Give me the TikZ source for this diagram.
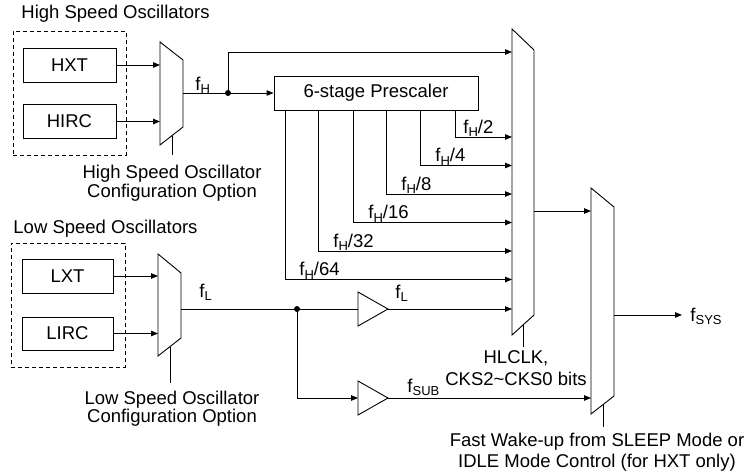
\documentclass[tikz,border=0pt]{standalone}
\usepackage{fontspec}
\setmainfont{Liberation Sans}
\usetikzlibrary{arrows.meta}
\newcommand\fsub[1]{f\raisebox{-3.5pt}{\fontsize{13}{13}\selectfont #1}}
\begin{document}
\begin{tikzpicture}[x=1pt,y=-1pt,line width=0.9pt,
  every node/.style={font=\fontsize{18.5}{18}\selectfont,inner sep=0pt},
  box/.style={draw,minimum width=93pt,minimum height=34pt},
  dashbox/.style={draw,dash pattern=on 4pt off 3pt},
  arr/.style={-{Triangle[length=7pt,width=5.5pt]}},
  lbl/.style={anchor=base west},
  mux/.style={draw,fill=white},
  jdot/.style={circle,fill,minimum size=6pt},
  note/.style={align=center,anchor=north}
]
\useasboundingbox (0,0) rectangle (749,471);

% ---------- high speed oscillators ----------
\node[lbl] (hstitle) at (21,18) {High Speed Oscillators};
\node[dashbox,minimum width=113pt,minimum height=124pt] (hsgrp) at (69.5,93) {};
\node[box] (hxt) at (69.5,65) {HXT};
\node[box] (hirc) at (69.5,121.5) {HIRC};

\draw[mux] (160,42) -- (183,60) -- (183,127) -- (160,145) -- cycle;
\coordinate (hmA) at (160,65);
\coordinate (hmB) at (160,121.5);
\coordinate (hmO) at (183,93);
\coordinate (hmC) at (172,135.6);
\coordinate (hmCe) at (172,155);
\draw[arr] (hxt.east) -- (hmA);
\draw[arr] (hirc.east) -- (hmB);
\draw (hmC) -- (hmCe);
\node[note,font=\fontsize{18.5}{17}\selectfont] (hsconf) at (172,165) {High Speed Oscillator\\Configuration Option};

\node[jdot] (dotH) at (228,93) {};
\node[lbl] (fHlbl) at (195,90) {\fsub{H}};
\node[draw,minimum width=204pt,minimum height=34pt] (pre) at (376,93) {6-stage Prescaler};
\draw (hmO) -- (dotH.center);
\draw[arr] (dotH.center) -- (pre.west);

% ---------- main mux ----------
\draw[mux] (512,29) -- (534,50) -- (534,315) -- (512,335) -- cycle;
\coordinate (mTop) at (512,52);
\coordinate (m2) at (512,137);
\coordinate (m4) at (512,165.5);
\coordinate (m8) at (512,194);
\coordinate (m16) at (512,222.5);
\coordinate (m32) at (512,251);
\coordinate (m64) at (512,279.5);
\coordinate (mL) at (512,309);
\coordinate (mO) at (534,211);
\coordinate (mC) at (523,325);
\coordinate (mCe) at (523,347);
\draw[arr] (dotH.center) |- (mTop);
\draw[arr] ([xshift=182pt]pre.south west) |- (m2);
\draw[arr] ([xshift=147pt]pre.south west) |- (m4);
\draw[arr] ([xshift=113pt]pre.south west) |- (m8);
\draw[arr] ([xshift=80pt]pre.south west) |- (m16);
\draw[arr] ([xshift=45pt]pre.south west) |- (m32);
\draw[arr] ([xshift=12pt]pre.south west) |- (m64);
\node[lbl] (l2) at (463,133) {\fsub{H}/2};
\node[lbl] (l4) at (435,161.5) {\fsub{H}/4};
\node[lbl] (l8) at (401,190) {\fsub{H}/8};
\node[lbl] (l16) at (368,218.5) {\fsub{H}/16};
\node[lbl] (l32) at (333,247) {\fsub{H}/32};
\node[lbl] (l64) at (299,275.5) {\fsub{H}/64};
\draw (mC) -- (mCe);
\node[note,font=\fontsize{18.5}{22}\selectfont] (hlclk) at (516,350) {HLCLK,\\CKS2\textasciitilde CKS0 bits};

% ---------- low speed oscillators ----------
\node[lbl] (lstitle) at (13,233) {Low Speed Oscillators};
\node[dashbox,minimum width=114pt,minimum height=124pt] (lsgrp) at (68,305) {};
\node[box,minimum width=91pt] (lxt) at (67.5,276) {LXT};
\node[box,minimum width=91pt,minimum height=33pt] (lirc) at (67.5,333.5) {LIRC};

\draw[mux] (158,254) -- (181,273) -- (181,338) -- (158,356) -- cycle;
\coordinate (lmA) at (158,276);
\coordinate (lmB) at (158,333.5);
\coordinate (lmO) at (181,309);
\coordinate (lmC) at (170,346.6);
\coordinate (lmCe) at (170,383);
\draw[arr] (lxt.east) -- (lmA);
\draw[arr] (lirc.east) -- (lmB);
\draw (lmC) -- (lmCe);
\node[note,font=\fontsize{18.5}{18}\selectfont] (lsconf) at (172,391) {Low Speed Oscillator\\Configuration Option};
\node[lbl] (fLlbl) at (199,297) {\fsub{L}};

\node[jdot] (dotL) at (297,309) {};
\draw (358,292) -- (388,309) -- (358,326) -- cycle;
\coordinate (bLi) at (358,309);
\coordinate (bLo) at (388,309);
\draw (358,381) -- (388,398) -- (358,415) -- cycle;
\coordinate (bSi) at (358,398);
\coordinate (bSo) at (388,398);
\draw (lmO) -- (bLi);
\draw[arr] (bLo) -- (mL);
\node[lbl] (fL2) at (395,298) {\fsub{L}};
\draw[arr] (dotL.center) |- (bSi);

% ---------- second mux ----------
\draw[mux] (591,188) -- (614,207) -- (614,396) -- (591,414) -- cycle;
\coordinate (nA) at (591,211);
\coordinate (nS) at (591,398);
\coordinate (nO) at (614,315);
\coordinate (nC) at (603,404.6);
\coordinate (nCe) at (603,427);
\coordinate (fsys) at (682,315);
\draw[arr] (mO) -- (nA);
\draw[arr] (bSo) -- (nS);
\node[lbl] (fsub) at (407,392) {\fsub{SUB}};
\draw[arr] (nO) -- (fsys);
\node[lbl] (fsyslbl) at (690,321) {\fsub{SYS}};
\draw (nC) -- (nCe);
\node[note,font=\fontsize{18.5}{21}\selectfont] (wake) at (597,433) {Fast Wake-up from SLEEP Mode or\\IDLE Mode Control (for HXT only)};
\end{tikzpicture}
\end{document}
